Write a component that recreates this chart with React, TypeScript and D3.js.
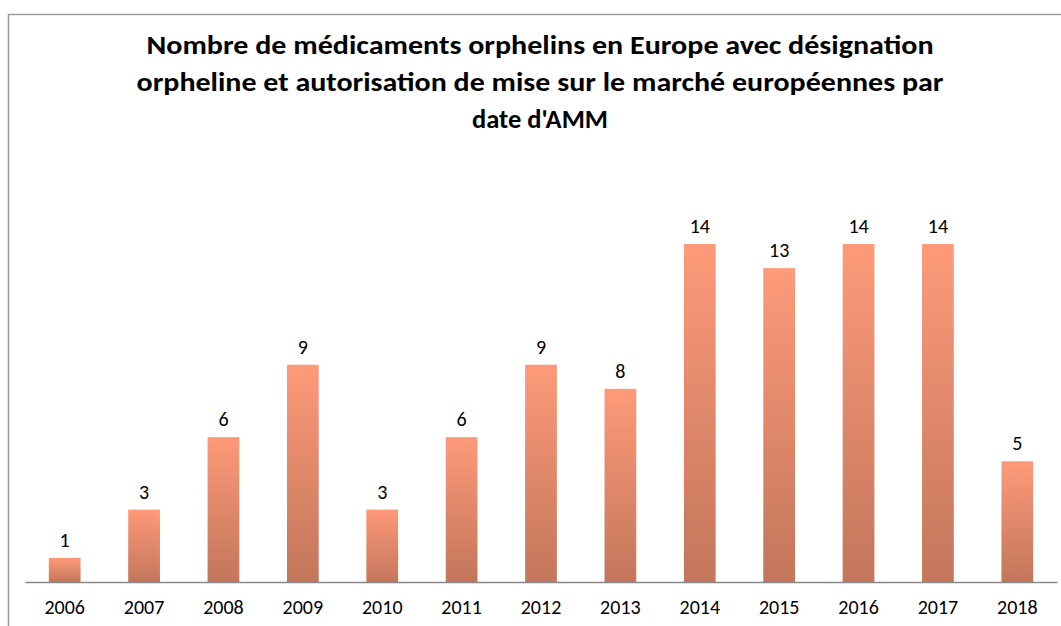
import { useEffect, useRef } from "react";
import * as d3 from "d3";

const years = ["2006", "2007", "2008", "2009", "2010", "2011", "2012", "2013", "2014", "2015", "2016", "2017", "2018"];
const counts = [1, 3, 6, 9, 3, 6, 9, 8, 14, 13, 14, 14, 5];
const titleLines = [
  "Nombre de médicaments orphelins en Europe avec désignation",
  "orpheline et autorisation de mise sur le marché européennes par",
  "date d'AMM",
];
// measured widths of the title lines in the reference
const titleWidths = [787, 807, 136];

const FONT = "Carlito, Lato, 'Open Sans', sans-serif";

const App = () => {
  const svgRef = useRef<SVGSVGElement>(null);

  useEffect(() => {
    const svg = d3.select(svgRef.current);
    svg.selectAll("*").remove();

    const width = 1061;
    const height = 626;
    const left = 25;
    const right = 1057;
    const baseline = 582;

    // gradient used by every bar
    const grad = svg
      .append("defs")
      .append("linearGradient")
      .attr("id", "barGrad")
      .attr("x1", 0)
      .attr("y1", 0)
      .attr("x2", 0)
      .attr("y2", 1);
    grad.append("stop").attr("offset", "0%").attr("stop-color", "#fd9a79");
    grad.append("stop").attr("offset", "100%").attr("stop-color", "#c3765b");

    // chart border (cut off on right and bottom)
    svg
      .append("path")
      .attr("d", `M8.5,${height} V14.5 H${width}`)
      .attr("fill", "none")
      .attr("stroke", "#9a9a9a")
      .attr("stroke-width", 1.5);

    // title
    svg
      .selectAll(".title")
      .data(titleLines)
      .enter()
      .append("text")
      .attr("class", "title")
      .attr("x", 540)
      .attr("y", (d, i) => 54 + i * 37)
      .attr("font-family", FONT)
      .attr("font-weight", "bold")
      .attr("font-size", 26)
      .attr("text-anchor", "middle")
      .attr("textLength", (d, i) => titleWidths[i])
      .attr("lengthAdjust", "spacingAndGlyphs")
      .attr("fill", "#000")
      .text((d) => d);

    const xScale = d3.scaleBand().domain(years).range([left, right]).paddingInner(0.6).paddingOuter(0.3);
    const yScale = d3.scaleLinear().domain([0, 14]).range([baseline, 244]);

    const g = svg.append("g");

    g.selectAll(".bar")
      .data(counts)
      .enter()
      .append("rect")
      .attr("class", "bar")
      .attr("x", (d, i) => xScale(years[i])!)
      .attr("y", (d) => yScale(d))
      .attr("width", xScale.bandwidth())
      .attr("height", (d) => baseline - yScale(d))
      .attr("fill", "url(#barGrad)");

    g.selectAll(".lbl")
      .data(counts)
      .enter()
      .append("text")
      .attr("class", "lbl")
      .attr("x", (d, i) => xScale(years[i])! + xScale.bandwidth() / 2)
      .attr("y", (d) => yScale(d) - 11)
      .attr("text-anchor", "middle")
      .attr("font-family", FONT)
      .attr("font-size", 20)
      .attr("fill", "#000")
      .text((d) => d);

    // x axis
    const axis = svg
      .append("g")
      .attr("transform", `translate(0,${baseline})`)
      .call(d3.axisBottom(xScale).tickSize(0).tickPadding(18));
    axis.select(".domain").attr("stroke", "#888").attr("stroke-width", 1.5);
    axis
      .selectAll("text")
      .attr("font-family", FONT)
      .attr("font-size", 20)
      .attr("fill", "#000");
  }, []);

  return (
    <svg
      ref={svgRef}
      width={1061}
      height={626}
      style={{ position: "absolute", left: 0, top: 0, background: "#fff" }}
    ></svg>
  );
};

export default App;
